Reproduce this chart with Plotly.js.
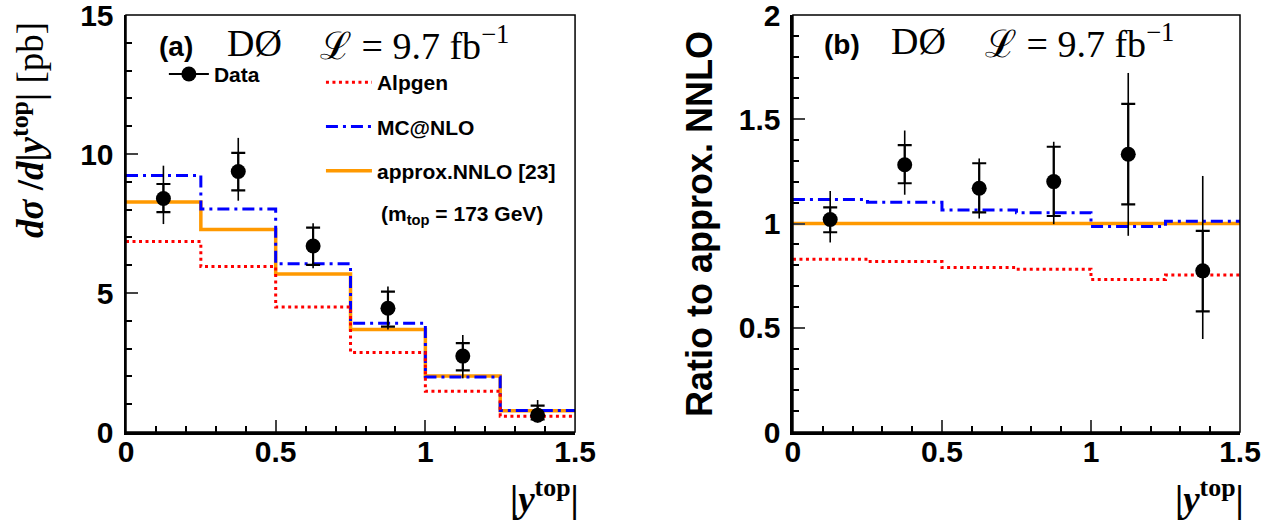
<!DOCTYPE html>
<html>
<head>
<meta charset="utf-8">
<script src="https://cdn.plot.ly/plotly-3.0.1.min.js"></script>
<style>html,body{margin:0;padding:0;background:#fff;}#plot{width:1281px;height:520px;}</style>
</head>
<body>
<div id="plot"></div>
<script>
// ---- data ----
const binEdges = [0, 0.25, 0.5, 0.75, 1.0, 1.25, 1.5];
const binCenters = [0.125, 0.375, 0.625, 0.875, 1.125, 1.375];

// (a) differential cross section [pb]
const dataXsec   = [8.40, 9.37, 6.69, 4.45, 2.73, 0.60];
const statHiXsec = [8.92, 10.04, 7.35, 5.05, 3.20, 0.95];
const statLoXsec = [7.91, 8.69, 6.01, 3.79, 2.22, 0.45];
const totHiXsec  = [9.58, 10.58, 7.51, 5.23, 3.49, 1.15];
const totLoXsec  = [7.48, 8.32, 5.89, 3.69, 1.93, 0.34];
const nnloXsec   = [8.27, 7.28, 5.68, 3.69, 2.01, 0.76];
const mcnloXsec  = [9.23, 8.02, 6.05, 3.91, 1.98, 0.77];
const alpgenXsec = [6.85, 5.95, 4.50, 2.86, 1.47, 0.57];

// (b) ratio to approx. NNLO
const dataRatio   = [1.019, 1.282, 1.169, 1.201, 1.332, 0.773];
const statHiRatio = [1.077, 1.376, 1.289, 1.368, 1.574, 0.965];
const statLoRatio = [0.958, 1.193, 1.053, 1.036, 1.092, 0.579];
const totHiRatio  = [1.156, 1.446, 1.312, 1.392, 1.722, 1.228];
const totLoRatio  = [0.909, 1.138, 1.024, 0.997, 0.941, 0.446];
const nnloRatio   = [1.000, 1.000, 1.000, 1.000, 1.000, 1.000];
const mcnloRatio  = [1.115, 1.102, 1.065, 1.051, 0.986, 1.011];
const alpgenRatio = [0.829, 0.818, 0.789, 0.780, 0.732, 0.753];

const xTickVals = [0, 0.5, 1, 1.5];
const yTickValsXsec = [0, 5, 10, 15];
const yTickValsRatio = [0, 0.5, 1, 1.5, 2];
const labels = {
  data: 'Data', alpgen: 'Alpgen', mcnlo: 'MC@NLO', nnlo: 'approx.NNLO [23]',
  mass: '(m<sub>top</sub> = 173 GeV)', ratioTitle: 'Ratio to approx. NNLO'
};

// ---- helpers ----
const stepY = v => v.concat([v[v.length - 1]]);
const diff = (a, b) => a.map((v, i) => v - b[i]);

const ORANGE = '#ff9900', BLUE = '#0000ff', RED = '#ff0000';
const SANS = 'Liberation Sans, Arial, sans-serif';
const SERIF = 'Liberation Serif, DejaVu Serif, serif';

function modelTraces(xa, ya, nnlo, mcnlo, alpgen, legendOn) {
  return [
    {x: binEdges, y: stepY(nnlo), xaxis: xa, yaxis: ya, mode: 'lines', line: {shape: 'hv', color: ORANGE, width: 3.5},
     name: labels.nnlo, showlegend: legendOn, legend: 'legend2', legendgroup: 'g3', legendrank: 3},
    {x: binEdges, y: stepY(mcnlo), xaxis: xa, yaxis: ya, mode: 'lines', line: {shape: 'hv', color: BLUE, width: 3, dash: '12px,5px,3px,5px'},
     name: labels.mcnlo, showlegend: legendOn, legend: 'legend2', legendgroup: 'g2', legendrank: 2},
    {x: binEdges, y: stepY(alpgen), xaxis: xa, yaxis: ya, mode: 'lines', line: {shape: 'hv', color: RED, width: 3, dash: '3px,3.5px'},
     name: labels.alpgen, showlegend: legendOn, legend: 'legend2', legendgroup: 'g1', legendrank: 1}
  ];
}
function dataTraces(xa, ya, val, sHi, sLo, tHi, tLo) {
  return [
    {x: binCenters, y: val, xaxis: xa, yaxis: ya, mode: 'markers', showlegend: false,
     marker: {size: 1, color: 'rgba(0,0,0,0)'},
     error_y: {type: 'data', symmetric: false, array: diff(tHi, val), arrayminus: diff(val, tLo), width: 0, thickness: 1.6, color: 'black'}},
    {x: binCenters, y: val, xaxis: xa, yaxis: ya, mode: 'markers', showlegend: false,
     marker: {size: 15, color: 'black'},
     error_y: {type: 'data', symmetric: false, array: diff(sHi, val), arrayminus: diff(val, sLo), width: 7, thickness: 2.2, color: 'black'}}
  ];
}

const traces = [].concat(
  modelTraces('x', 'y', nnloXsec, mcnloXsec, alpgenXsec, true),
  dataTraces('x', 'y', dataXsec, statHiXsec, statLoXsec, totHiXsec, totLoXsec),
  modelTraces('x2', 'y2', nnloRatio, mcnloRatio, alpgenRatio, false),
  dataTraces('x2', 'y2', dataRatio, statHiRatio, statLoRatio, totHiRatio, totLoRatio),
  [{x: [null], y: [null], xaxis: 'x', yaxis: 'y', mode: 'lines+markers', name: labels.data,
    line: {color: 'black', width: 2}, marker: {size: 15, color: 'black'}, legend: 'legend', showlegend: true}]
);

const tickFont = {family: SANS, size: 30, weight: 'bold', color: 'black'};
function xAxis(domain, anchor) {
  return {domain: domain, anchor: anchor, range: [0, 1.5], tickmode: 'array', tickvals: xTickVals, ticks: 'inside', ticklen: 12, tickwidth: 2,
    showline: true, linewidth: 2.5, linecolor: 'black', mirror: false, showgrid: false, zeroline: false,
    tickfont: tickFont, ticklabelposition: 'outside', ticklabelstandoff: -9, ticklabeloverflow: 'allow',
    minor: {dtick: 0.1, tick0: 0, ticks: 'inside', ticklen: 6, tickwidth: 2, tickcolor: 'black', showgrid: false}};
}
function yAxis(range, tickvals, minorDtick, anchor) {
  return {domain: [0, 1], anchor: anchor, range: range, tickmode: 'array', tickvals: tickvals, ticks: 'inside', ticklen: 12, tickwidth: 2,
    showline: true, linewidth: 2.5, linecolor: 'black', mirror: false, showgrid: false, zeroline: false,
    tickfont: tickFont, ticklabelposition: 'outside', ticklabelstandoff: 4, ticklabeloverflow: 'allow',
    minor: {dtick: minorDtick, tick0: 0, ticks: 'inside', ticklen: 6, tickwidth: 2, tickcolor: 'black', showgrid: false}};
}

const serifFont = (s) => ({family: SERIF, size: s, color: 'black'});
const lumi = 'ℒ = 9.7 fb<sup>−1</sup>';
const annotations = [
  // panel (a) header
  {xref: 'x domain', yref: 'y domain', x: 0.068, y: 0.925, xanchor: 'left', yanchor: 'middle', showarrow: false,
   text: '<b>(a)</b>', font: {family: SANS, size: 28, color: 'black'}},
  {xref: 'x domain', yref: 'y domain', x: 0.220, y: 0.932, xanchor: 'left', yanchor: 'middle', showarrow: false,
   text: 'DØ', font: serifFont(38)},
  {xref: 'x domain', yref: 'y domain', x: 0.428, y: 0.932, xanchor: 'left', yanchor: 'middle', showarrow: false,
   text: lumi, font: serifFont(38)},
  {xref: 'x domain', yref: 'y domain', x: 0.563, y: 0.52, xanchor: 'left', yanchor: 'middle', showarrow: false,
   text: '<b>' + labels.mass + '</b>', font: {family: SANS, size: 21, color: 'black'}},
  // panel (b) header
  {xref: 'x2 domain', yref: 'y2 domain', x: 0.064, y: 0.93, xanchor: 'left', yanchor: 'middle', showarrow: false,
   text: '<b>(b)</b>', font: {family: SANS, size: 28, color: 'black'}},
  {xref: 'x2 domain', yref: 'y2 domain', x: 0.214, y: 0.937, xanchor: 'left', yanchor: 'middle', showarrow: false,
   text: 'DØ', font: serifFont(38)},
  {xref: 'x2 domain', yref: 'y2 domain', x: 0.425, y: 0.937, xanchor: 'left', yanchor: 'middle', showarrow: false,
   text: lumi, font: serifFont(38)},
  // x titles
  {xref: 'x domain', yref: 'paper', x: 1.0, xshift: 6, y: -0.155, xanchor: 'right', yanchor: 'middle', showarrow: false,
   text: '<b>|<i>y</i><sup>top</sup>|</b>', font: serifFont(37)},
  {xref: 'x2 domain', yref: 'paper', x: 1.0, xshift: 6, y: -0.155, xanchor: 'right', yanchor: 'middle', showarrow: false,
   text: '<b>|<i>y</i><sup>top</sup>|</b>', font: serifFont(37)},
  // y titles
  {xref: 'paper', yref: 'paper', x: -0.088, y: 0.724, xanchor: 'center', yanchor: 'middle', textangle: -90, showarrow: false,
   text: '<b><i>dσ</i> /<i>d</i>|<i>y</i><sup>top</sup>|</b> [pb]', font: serifFont(37)},
  {xref: 'paper', yref: 'paper', x: 0.5153, y: 0.499, xanchor: 'center', yanchor: 'middle', textangle: -90, showarrow: false,
   text: '<b>' + labels.ratioTitle + '</b>', font: {family: SANS, size: 36, color: 'black'}}
];

const frame = (xr, yr) => ({type: 'rect', xref: xr, yref: yr, x0: 0, x1: 1, y0: 0, y1: 1,
  line: {color: 'black', width: 1.5}, fillcolor: 'rgba(0,0,0,0)', layer: 'above'});

const layout = {
  width: 1281, height: 520,
  margin: {l: 126, r: 41, t: 15, b: 88},
  paper_bgcolor: 'white', plot_bgcolor: 'white',
  xaxis: xAxis([0, 0.4031], 'y'),
  yaxis: yAxis([0, 15], yTickValsXsec, 1, 'x'),
  xaxis2: xAxis([0.5987, 1], 'y2'),
  yaxis2: yAxis([0, 2], yTickValsRatio, 0.1, 'x2'),
  showlegend: true,
  legend: {x: 0.034, y: 0.907, xanchor: 'left', yanchor: 'top', bgcolor: 'rgba(0,0,0,0)', borderwidth: 0,
           itemwidth: 40,
           font: {family: SANS, size: 21, weight: 'bold', color: 'black'}},
  legend2: {x: 0.175, y: 0.887, xanchor: 'left', yanchor: 'top', bgcolor: 'rgba(0,0,0,0)', borderwidth: 0,
            traceorder: 'grouped', tracegroupgap: 14, itemwidth: 46,
            font: {family: SANS, size: 21, weight: 'bold', color: 'black'}},
  annotations: annotations,
  shapes: [frame('x domain', 'y domain'), frame('x2 domain', 'y2 domain')]
};

Plotly.newPlot('plot', traces, layout, {staticPlot: true, displayModeBar: false});
</script>
</body>
</html>
